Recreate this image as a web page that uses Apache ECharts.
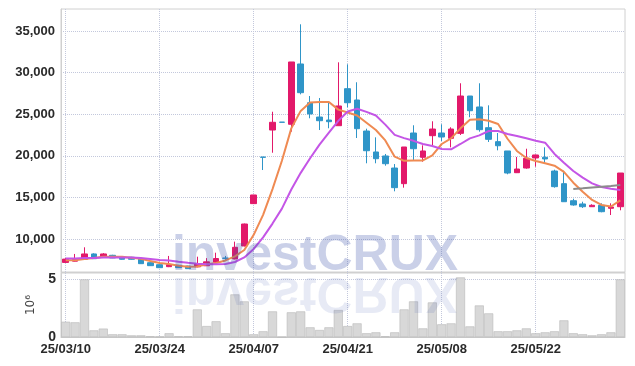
<!DOCTYPE html>
<html>
<head>
<meta charset="utf-8">
<script src="https://cdn.jsdelivr.net/npm/echarts@6/dist/echarts.min.js"></script>
<style>
html, body { margin: 0; padding: 0; background: #fff; }
#chart { width: 635px; height: 366px; }
</style>
</head>
<body>
<div id="chart"></div>
<script>
// 거래일
const dates = [
    '25/03/10', '25/03/11', '25/03/12', '25/03/13', '25/03/14', '25/03/17', '25/03/18', '25/03/19', '25/03/20', '25/03/21',
    '25/03/24', '25/03/25', '25/03/26', '25/03/27', '25/03/28', '25/03/31', '25/04/01', '25/04/02', '25/04/03', '25/04/04',
    '25/04/07', '25/04/08', '25/04/09', '25/04/10', '25/04/11', '25/04/14', '25/04/15', '25/04/16', '25/04/17', '25/04/18',
    '25/04/21', '25/04/22', '25/04/23', '25/04/24', '25/04/25', '25/04/28', '25/04/29', '25/04/30', '25/05/02', '25/05/07',
    '25/05/08', '25/05/09', '25/05/12', '25/05/13', '25/05/14', '25/05/15', '25/05/16', '25/05/19', '25/05/20', '25/05/21',
    '25/05/22', '25/05/23', '25/05/26', '25/05/27', '25/05/28', '25/05/29', '25/05/30', '25/06/02', '25/06/04', '25/06/05'
];
const opens = [
    7180, 7330, 7560, 8200, 7840, 8040, 7870, 7800, 7560, 7150,
    6910, 6670, 6840, 6750, 6650, 6780, 7200, 7700, 7600, 9160,
    14250, 19850, 23100, 24050, 23790, 31040, 26380, 24660, 24300, 23620,
    28070, 26710, 22980, 20460, 19980, 18530, 16650, 22740, 19820, 22420,
    22740, 22100, 22700, 27190, 25870, 23380, 21700, 20580, 17970, 18530,
    19740, 19820, 18170, 16650, 14600, 14210, 13880, 14050, 13690, 13880
];
const closes = [
    7580, 7550, 8200, 7630, 8200, 7720, 7560, 7560, 7030, 6790,
    6550, 6910, 6550, 6430, 7000, 7250, 7650, 7680, 9000, 11800,
    15290, 19820, 24030, 24030, 31280, 27590, 25030, 24220, 24100, 25990,
    26380, 23260, 20610, 19650, 19050, 16170, 21060, 20850, 20580, 23220,
    22260, 23220, 27190, 25420, 23140, 21980, 21210, 17930, 18410, 19700,
    20100, 19620, 16290, 14480, 14090, 13880, 14050, 13280, 13850, 17930
];
const lows = [
    7130, 7300, 7500, 7600, 7800, 7700, 7520, 7520, 7000, 6750,
    6500, 6620, 6520, 6400, 6600, 6750, 7150, 7400, 7550, 9100,
    14240, 18290, 20370, 24030, 22900, 27390, 24510, 23100, 23310, 23620,
    25830, 22140, 19100, 19100, 18810, 15730, 16170, 19500, 19290, 21260,
    21780, 21020, 22500, 24630, 22900, 21660, 20660, 17780, 17930, 18450,
    18690, 19140, 16170, 14450, 14000, 13730, 13850, 13210, 12880, 13450
];
const highs = [
    7700, 8200, 9000, 8280, 8300, 8100, 7900, 7850, 7600, 7180,
    6950, 7960, 6880, 6780, 7870, 7700, 8350, 7960, 9680, 11850,
    15300, 19850, 25300, 24050, 31280, 35810, 27190, 26950, 26430, 31240,
    31000, 28840, 23260, 22220, 20220, 19010, 21060, 23670, 21260, 24150,
    23790, 23430, 28720, 27190, 28720, 26070, 22740, 20580, 19860, 20850,
    20150, 21020, 18330, 18210, 14840, 14480, 14170, 14290, 14290, 17930
];
// 이동평균선
const ma5 = [
    7450, 7450, 7600, 7700, 7850, 7870, 7850, 7750, 7620, 7350,
    7100, 6980, 6780, 6650, 6700, 6950, 7120, 7420, 7900, 8680,
    10500, 12900, 16000, 19400, 23300, 25400, 26400, 26480, 26480, 25550,
    25200, 24850, 23980, 23100, 21850, 19900, 19400, 19450, 19450, 20060,
    21420, 22100, 23300, 24330, 24390, 24220, 23820, 22050, 20580, 19740,
    19380, 19100, 18810, 18060, 16770, 15690, 14690, 14090, 13900, 14650
];
const ma10 = [
    7650, 7660, 7700, 7720, 7760, 7780, 7780, 7760, 7720, 7600,
    7480, 7420, 7260, 7130, 7020, 6970, 6960, 7000, 7230, 7780,
    8800, 10200, 11850, 13650, 15950, 17950, 19700, 21350, 22800, 24200,
    25320, 25650, 25280, 24850, 23750, 22520, 22130, 21800, 21420, 21180,
    20820, 20780, 21420, 22100, 22460, 22980, 22980, 22620, 22380, 22100,
    21820, 21580, 20220, 19170, 18170, 17370, 16690, 16250, 16050, 15890
];
const maLong = [
    null, null, null, null, null, null, null, null, null, null,
    null, null, null, null, null, null, null, null, null, null,
    null, null, null, null, null, null, null, null, null, null,
    null, null, null, null, null, null, null, null, null, null,
    null, null, null, null, null, null, null, null, null, null,
    null, null, null, null, 16000, 16090, 16190, 16290, 16380, 16490
];
// 거래량
const volumes = [
    1310000, 1260000, 4950000, 570000, 720000, 230000, 230000, 140000, 140000, 60000,
    20000, 320000, 60000, 60000, 2370000, 940000, 1350000, 320000, 3660000, 3060000,
    230000, 490000, 2200000, 0, 2120000, 2200000, 830000, 600000, 830000, 2320000,
    940000, 1170000, 320000, 400000, 60000, 400000, 2370000, 3060000, 740000, 2970000,
    1090000, 1170000, 5120000, 910000, 2710000, 2030000, 490000, 490000, 570000, 740000,
    320000, 400000, 490000, 1430000, 320000, 230000, 140000, 230000, 400000, 4950000
];
const priceTicks = [10000, 15000, 20000, 25000, 30000, 35000];
const volumeTicks = [0, 5000000];

const upColor = '#e2196a';
const downColor = '#2f95c8';
const font = 'Liberation Sans';
const splitStyle = { type: 'dotted', color: '#c3c8dc', width: 1 };

const candleData = dates.map((d, i) => [opens[i], closes[i], lows[i], highs[i]]);

const myChart = echarts.init(document.getElementById('chart'));
const option = {
    animation: false,
    backgroundColor: '#fff',
    textStyle: { fontFamily: font },
    grid: [
        { left: 61, right: 10, top: 9, height: 263, show: true, borderColor: '#d0d0d0', borderWidth: 1 },
        { left: 61, right: 10, top: 273, height: 64, show: true, borderColor: '#d0d0d0', borderWidth: 1 }
    ],
    xAxis: [
        {
            type: 'category',
            gridIndex: 0,
            data: dates,
            boundaryGap: true,
            axisLine: { show: true, lineStyle: { color: '#d0d0d0' } },
            axisTick: { show: false, interval: 9, alignWithLabel: true },
            axisLabel: { show: false, interval: 9 },
            splitLine: { show: true, interval: 9, alignWithLabel: true, lineStyle: splitStyle }
        },
        {
            type: 'category',
            gridIndex: 1,
            data: dates,
            boundaryGap: true,
            axisLine: { show: true, lineStyle: { color: '#c8c8c8' } },
            axisTick: { show: false, interval: 9, alignWithLabel: true },
            axisLabel: { interval: 9, margin: 6, fontSize: 13, fontWeight: 'bold', color: '#2a2a2a', fontFamily: font },
            splitLine: { show: true, interval: 9, alignWithLabel: true, lineStyle: splitStyle }
        }
    ],
    yAxis: [
        {
            type: 'value',
            gridIndex: 0,
            min: 6030,
            max: 37650,
            axisLine: { show: true, lineStyle: { color: '#d0d0d0' } },
            axisTick: { show: false, customValues: priceTicks },
            axisLabel: {
                customValues: priceTicks,
                margin: 6,
                fontSize: 13,
                fontWeight: 'bold',
                color: '#2a2a2a',
                fontFamily: font,
                formatter: v => v.toLocaleString('en-US')
            },
            splitLine: { show: true, lineStyle: splitStyle }
        },
        {
            type: 'value',
            gridIndex: 1,
            min: 0,
            max: 5500000,
            name: '10⁶',
            nameLocation: 'middle',
            nameRotate: 90,
            nameGap: 22,
            nameTextStyle: { fontFamily: 'DejaVu Sans', fontSize: 12, color: '#444' },
            axisLine: { show: true, lineStyle: { color: '#d0d0d0' } },
            axisTick: { show: false, customValues: volumeTicks },
            axisLabel: {
                customValues: volumeTicks,
                margin: 5,
                fontSize: 14,
                fontWeight: 'bold',
                color: '#2a2a2a',
                fontFamily: font,
                formatter: v => v / 1000000
            },
            splitLine: { show: true, lineStyle: splitStyle }
        }
    ],
    graphic: [
        {
            type: 'text',
            x: 315,
            y: 231,
            z: 100,
            silent: true,
            style: {
                text: 'investCRUX',
                font: 'bold 50px "Liberation Sans"',
                fill: 'rgba(60,80,170,0.27)',
                align: 'center',
                verticalAlign: 'top'
            }
        },
        {
            type: 'text',
            x: 315,
            y: 317,
            scaleY: -1,
            z: 100,
            silent: true,
            style: {
                text: 'investCRUX',
                font: 'bold 50px "Liberation Sans"',
                fill: 'rgba(60,80,170,0.12)',
                align: 'center',
                verticalAlign: 'top'
            }
        }
    ],
    series: [
        {
            type: 'candlestick',
            xAxisIndex: 0,
            yAxisIndex: 0,
            data: candleData,
            barWidth: 6,
            itemStyle: {
                color: upColor,
                color0: downColor,
                borderColor: upColor,
                borderColor0: downColor,
                borderWidth: 1
            }
        },
        {
            type: 'line',
            name: 'MA5',
            xAxisIndex: 0,
            yAxisIndex: 0,
            data: ma5,
            showSymbol: false,
            lineStyle: { color: '#ef8a52', width: 2 }
        },
        {
            type: 'line',
            name: 'MA10',
            xAxisIndex: 0,
            yAxisIndex: 0,
            data: ma10,
            showSymbol: false,
            lineStyle: { color: '#c455e6', width: 2 }
        },
        {
            type: 'line',
            name: 'MA60',
            xAxisIndex: 0,
            yAxisIndex: 0,
            data: maLong,
            showSymbol: false,
            lineStyle: { color: '#8c8c8c', width: 2 }
        },
        {
            type: 'bar',
            xAxisIndex: 1,
            yAxisIndex: 1,
            data: volumes,
            barCategoryGap: '4%',
            itemStyle: { color: '#d8d8d8', borderColor: '#b8b8b8', borderWidth: 0.6 }
        }
    ]
};
myChart.setOption(option);
</script>
</body>
</html>
